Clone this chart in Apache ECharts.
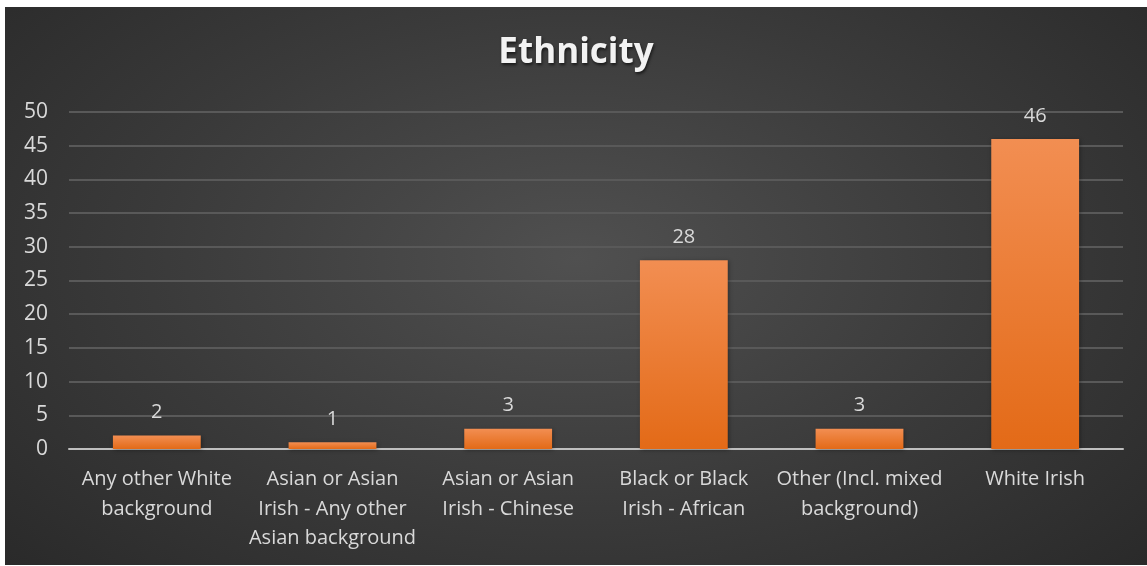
<!DOCTYPE html>
<html><head><meta charset="utf-8">
<script src="https://cdn.jsdelivr.net/npm/echarts@6/dist/echarts.min.js"></script>
<style>
html,body{margin:0;padding:0;background:#fff;width:1147px;height:566px;overflow:hidden;}
#c{position:absolute;left:5px;top:7px;width:1142px;height:558px;
background:radial-gradient(ellipse 75% 90% at 50% 45%, #505050 0%, #3a3a3a 50%, #262626 100%);}
</style></head><body>
<div id="c"></div>
<script>
const categories = ["Any other White\nbackground", "Asian or Asian\nIrish - Any other\nAsian background", "Asian or Asian\nIrish - Chinese", "Black or Black\nIrish - African", "Other (Incl. mixed\nbackground)", "White Irish"];
const values = [2, 1, 3, 28, 3, 46];
const yTicks = [0, 5, 10, 15, 20, 25, 30, 35, 40, 45, 50];

const chart = echarts.init(document.getElementById('c'), null, {renderer:'canvas'});
const font = "'Open Sans', 'Noto Sans', sans-serif";
chart.setOption({
  backgroundColor: 'transparent',
  title: {text: 'Ethnicity', left: 'center', top: 24,
    textStyle: {color: '#f2f2f2', fontSize: 35, fontWeight: 'bold', fontFamily: font,
      textShadowColor: 'rgba(0,0,0,0.6)', textShadowBlur: 3, textShadowOffsetX: 1, textShadowOffsetY: 2}},
  grid: {left: 64, right: 24, top: 105, bottom: 116},
  xAxis: {type: 'category', data: categories,
    axisLine: {lineStyle: {color: '#bfbfbf', width: 2}},
    axisTick: {show: false},
    axisLabel: {color: '#d9d9d9', fontSize: 20, fontFamily: font, lineHeight: 29.5, margin: 16, interval: 0}},
  yAxis: {type: 'value', min: yTicks[0], max: yTicks[yTicks.length-1], interval: 5,
    axisLine: {show: false}, axisTick: {show: false},
    axisLabel: {color: '#d9d9d9', fontSize: 21, fontFamily: font, margin: 21},
    splitLine: {lineStyle: {color: '#595959', width: 2}}},
  series: [{type: 'bar', data: values, barWidth: '50%',
    itemStyle: {color: new echarts.graphic.LinearGradient(0,0,0,1,[{offset:0,color:'#f28e52'},{offset:1,color:'#e36a17'}]),
      shadowColor: 'rgba(0,0,0,0.35)', shadowBlur: 4, shadowOffsetX: 1, shadowOffsetY: 1},
    label: {show: true, position: 'top', distance: 13, color: '#d9d9d9', fontSize: 20, fontFamily: font}}]
});
</script></body></html>
